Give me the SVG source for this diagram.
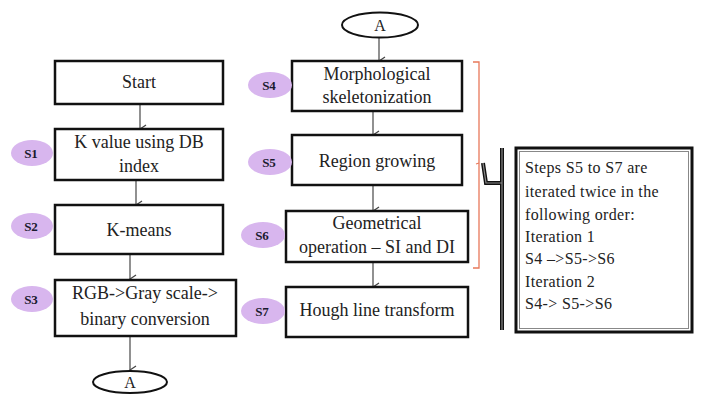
<svg xmlns="http://www.w3.org/2000/svg" width="707" height="401" viewBox="0 0 707 401">
<defs>
<marker id="ah" markerWidth="10" markerHeight="10" refX="5" refY="9" orient="auto" markerUnits="userSpaceOnUse" viewBox="0 0 10 10">
<path d="M1,3 L5,9 L9,3" fill="none" stroke="#444" stroke-width="1.3"/>
</marker>
<style>
.box{fill:#fff;stroke:#111;stroke-width:2.5}
.t{font-family:'Liberation Serif','Times New Roman','DejaVu Serif',serif;font-size:18px;fill:#222;text-anchor:middle}
.s{fill:#d8b6ee;stroke:none}
.sl{font-family:'Liberation Serif','Times New Roman','DejaVu Serif',serif;font-size:13px;font-weight:bold;fill:#1a1a2e;text-anchor:middle}
.c{stroke:#555;stroke-width:1.3;fill:none;marker-end:url(#ah)}
.n{font-family:'Liberation Serif','Times New Roman','DejaVu Serif',serif;font-size:16px;letter-spacing:0.35px;fill:#222}
</style>
</defs>
<rect width="707" height="401" fill="#fff"/>

<g id="connectors">
<line class="c" x1="140" y1="105" x2="140" y2="129"/>
<line class="c" x1="136" y1="181" x2="136" y2="205"/>
<line class="c" x1="130" y1="254" x2="130" y2="279"/>
<line class="c" x1="130" y1="331" x2="130" y2="370"/>
<line class="c" x1="379" y1="38" x2="379" y2="61"/>
<line class="c" x1="373" y1="111" x2="373" y2="135"/>
<line class="c" x1="373" y1="185" x2="373" y2="211"/>
<line class="c" x1="373" y1="262" x2="373" y2="287"/>
</g>

<g id="start"><rect class="box" x="55" y="61" width="168" height="43"/><text class="t" x="139" y="88">Start</text></g>
<g id="s1"><rect class="box" x="55" y="129" width="168" height="51"/><text class="t" x="139" y="148">K value using DB</text><text class="t" x="139" y="172">index</text>
<ellipse class="s" cx="32" cy="153" rx="21" ry="13"/><text class="sl" x="31" y="158">S1</text></g>
<g id="s2"><rect class="box" x="55" y="205" width="168" height="49"/><text class="t" x="139" y="236">K-means</text>
<ellipse class="s" cx="32" cy="226" rx="21" ry="13"/><text class="sl" x="31" y="231">S2</text></g>
<g id="s3"><rect class="box" x="55" y="280" width="181" height="56"/><text class="t" x="145" y="299">RGB-&gt;Gray scale-&gt;</text><text class="t" x="145" y="325">binary conversion</text>
<ellipse class="s" cx="32" cy="299" rx="21" ry="13"/><text class="sl" x="31" y="304">S3</text></g>
<g id="a-bottom"><ellipse cx="130" cy="382" rx="37" ry="11" fill="#fff" stroke="#111" stroke-width="2"/><text class="t" x="130" y="388" style="font-size:16px">A</text></g>

<g id="a-top"><ellipse cx="380" cy="25" rx="38" ry="12.5" fill="#fff" stroke="#111" stroke-width="2"/><text class="t" x="380" y="31" style="font-size:16px">A</text></g>
<g id="s4"><rect class="box" x="292" y="61" width="170" height="50"/><text class="t" x="377" y="80">Morphological</text><text class="t" x="377" y="103">skeletonization</text>
<ellipse class="s" cx="270" cy="85" rx="22" ry="13"/><text class="sl" x="269" y="90">S4</text></g>
<g id="s5"><rect class="box" x="292" y="135" width="170" height="50"/><text class="t" x="377" y="167">Region growing</text>
<ellipse class="s" cx="270" cy="162" rx="22" ry="13"/><text class="sl" x="269" y="167">S5</text></g>
<g id="s6"><rect class="box" x="286" y="211" width="182" height="51"/><text class="t" x="377" y="229">Geometrical</text><text class="t" x="377" y="253">operation – SI and DI</text>
<ellipse class="s" cx="263" cy="235" rx="22" ry="13"/><text class="sl" x="262" y="240">S6</text></g>
<g id="s7"><rect class="box" x="286" y="287" width="182" height="50"/><text class="t" x="377" y="316">Hough line transform</text>
<ellipse class="s" cx="263" cy="311" rx="22" ry="13"/><text class="sl" x="262" y="316">S7</text></g>

<g id="bracket">
<path d="M473,62 L479,62 L479,268 L473,268" fill="none" stroke="#e8785a" stroke-width="1.3"/>
<path d="M479,163 L476,164" fill="none" stroke="#e8785a" stroke-width="1.3"/>
<path d="M483,163 L486,183 L502,183 M502,148 L502,330" fill="none" stroke="#111" stroke-width="4"/>
<path d="M483,163 L486,183 L502,183 M502,148 L502,330" fill="none" stroke="#888" stroke-width="1.2"/>
</g>

<g id="note">
<rect x="516" y="148" width="176" height="184" fill="#fff" stroke="#111" stroke-width="3"/>
<rect x="519.5" y="151.5" width="169" height="177" fill="none" stroke="#888" stroke-width="1"/>
<text class="n" x="525" y="173">Steps S5  to S7 are</text>
<text class="n" x="525" y="197">iterated twice in the</text>
<text class="n" x="525" y="220">following order:</text>
<text class="n" x="525" y="242">Iteration 1</text>
<text class="n" x="525" y="264">S4 –&gt;S5-&gt;S6</text>
<text class="n" x="525" y="287">Iteration 2</text>
<text class="n" x="525" y="309">S4-&gt; S5-&gt;S6</text>
</g>
</svg>
